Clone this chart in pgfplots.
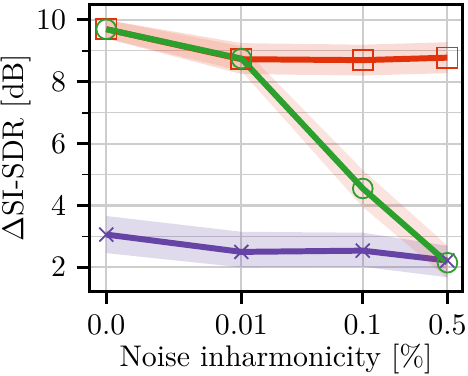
\documentclass[border=0pt]{standalone}
\usepackage{pgfplots}
\pgfplotsset{compat=1.18}

\definecolor{cred}{RGB}{225,50,10}
\definecolor{cgreen}{RGB}{44,160,44}
\definecolor{cpurple}{RGB}{102,68,165}
\definecolor{gridgray}{RGB}{205,205,205}

\begin{document}
\begin{tikzpicture}
\begin{axis}[
    scale only axis,
    width=125pt, height=96pt,
    xmin=-0.17, xmax=3.58,
    ymin=1.23, ymax=10.5,
    xtick={0,1.357,2.577,3.427},
    xticklabels={0.0,0.01,0.1,0.5},
    ytick={2,4,6,8,10},
    minor ytick={3,5,7,9},
    grid=both,
    major grid style={gridgray, line width=0.7pt},
    minor grid style={gridgray, line width=0.35pt},
    axis line style={black, line width=1.1pt},
    tick align=outside,
    major tick length=4.3pt,
    minor tick length=2.4pt,
    major tick style={black, line width=1pt},
    minor tick style={black, line width=0.6pt},
    xtick pos=bottom, ytick pos=left,
    xticklabel style={inner xsep=0.5pt},
    xlabel={Noise inharmonicity [\%]},
    ylabel={$\Delta$SI-SDR [dB]},
    ylabel style={at={(axis description cs:-0.197,0.5)}, anchor=center,
      inner sep=0.3pt},
    xlabel style={at={(axis description cs:0.5,-0.235)}, anchor=center,
      inner sep=0.8pt},
    clip=false,
]
% purple: band then mean
\addplot[draw=none, fill=cpurple, fill opacity=0.2] coordinates {
  (0,3.66) (1.357,3.15) (2.577,3.12) (3.427,2.7)
  (3.427,1.68) (2.577,2.02) (1.357,2.0) (0,2.46)} -- cycle;
\addplot[cpurple, line width=2pt, mark=x, mark size=3.3pt,
  mark options={line width=0.6pt}] coordinates {
  (0,3.06) (1.357,2.5) (2.577,2.54) (3.427,2.22)};

% red: band then mean
\addplot[draw=none, fill=cred, fill opacity=0.17] coordinates {
  (0,10.0) (1.357,9.25) (2.577,9.2) (3.427,9.28)
  (3.427,8.28) (2.577,8.2) (1.357,8.25) (0,9.4)} -- cycle;
\addplot[cred, line width=2pt, mark=square, mark size=3.4pt,
  mark options={line width=0.6pt}] coordinates {
  (0,9.7) (1.357,8.73) (2.577,8.7) (3.427,8.78)};

% green: band then mean
\addplot[draw=none, fill=cred, fill opacity=0.13] coordinates {
  (0,10.0) (1.357,9.15) (2.577,5.15) (3.427,2.7)
  (3.427,1.65) (2.577,3.95) (1.357,8.35) (0,9.4)} -- cycle;
\addplot[cgreen, line width=2pt, mark=o, mark size=3.3pt,
  mark options={line width=0.6pt}] coordinates {
  (0,9.7) (1.357,8.75) (2.577,4.55) (3.427,2.15)};
\end{axis}
\path ([yshift=1.5pt]current axis.north);
\end{tikzpicture}
\end{document}
